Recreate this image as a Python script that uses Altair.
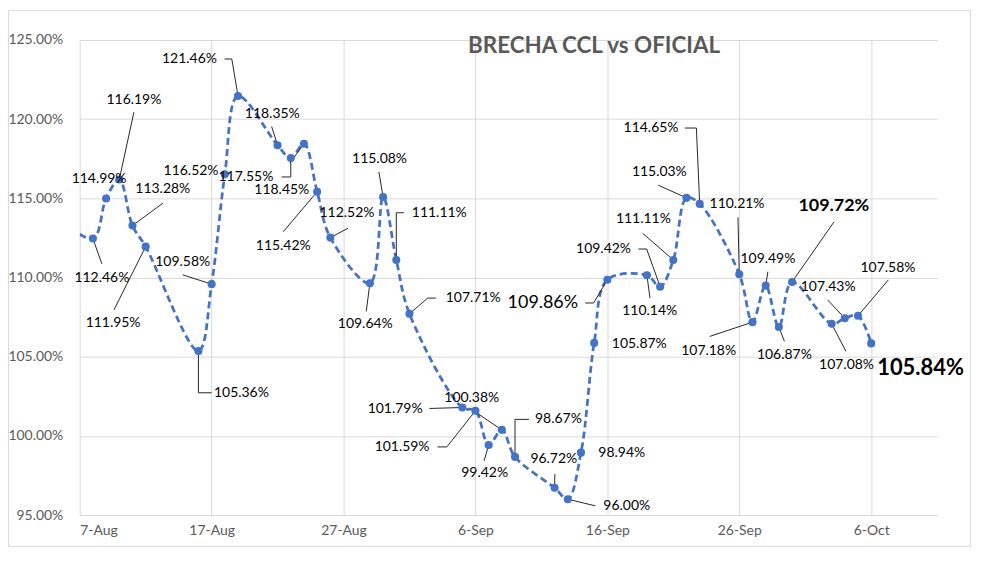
import altair as alt
import pandas as pd

START = "2022-08-07"
AXIS_END = "2022-10-11"

dates = [
    "2022-08-05", "2022-08-08", "2022-08-09", "2022-08-10", "2022-08-11", "2022-08-12",
    "2022-08-16", "2022-08-17", "2022-08-18", "2022-08-19",
    "2022-08-22", "2022-08-23", "2022-08-24", "2022-08-25", "2022-08-26",
    "2022-08-29", "2022-08-30", "2022-08-31", "2022-09-01",
    "2022-09-05", "2022-09-06", "2022-09-07", "2022-09-08", "2022-09-09",
    "2022-09-12", "2022-09-13", "2022-09-14", "2022-09-15", "2022-09-16",
    "2022-09-19", "2022-09-20", "2022-09-21", "2022-09-22", "2022-09-23",
    "2022-09-26", "2022-09-27", "2022-09-28", "2022-09-29", "2022-09-30",
    "2022-10-03", "2022-10-04", "2022-10-05", "2022-10-06",
]
values = [
    114.00, 112.46, 114.99, 116.19, 113.28, 111.95,
    105.36, 109.58, 116.52, 121.46,
    118.35, 117.55, 118.45, 115.42, 112.52,
    109.64, 115.08, 111.11, 107.71,
    101.79, 101.59, 99.42, 100.38, 98.67,
    96.72, 96.00, 98.94, 105.87, 109.86,
    110.14, 109.42, 111.11, 115.03, 114.65,
    110.21, 107.18, 109.49, 106.87, 109.72,
    107.08, 107.43, 107.58, 105.84,
]

# x-axis tick labels (every 10 days from START)
tick_days = [0, 10, 20, 30, 40, 50, 60]
tick_labels = ["7-Aug", "17-Aug", "27-Aug", "6-Sep", "16-Sep", "26-Sep", "6-Oct"]
y_ticks = [95, 100, 105, 110, 115, 120, 125]

# data-label anchors (days since START, percent), one per point from index 1
label_day = [
    1.68, 1.47, 4.11, 6.30, 2.53, 12.26, 7.81, 8.44, 8.32, 14.60,
    12.60, 15.32, 15.43, 20.26, 21.65, 22.73, 27.26, 29.83, 23.91, 24.44,
    30.70, 29.72, 36.29, 35.94, 41.47, 41.09, 42.42, 35.11, 43.21, 39.71,
    42.73, 43.94, 43.31, 49.83, 47.68, 52.17, 53.42, 57.17, 58.13, 56.74,
    61.27, 63.74,
]
label_val = [
    109.96, 116.21, 121.24, 115.56, 107.13, 102.68, 111.00, 116.73, 123.80, 120.34,
    116.35, 115.52, 112.01, 114.05, 107.06, 117.51, 114.09, 108.70, 101.67, 99.30,
    97.64, 102.41, 101.04, 98.52, 95.58, 98.90, 105.82, 108.39, 107.86, 111.80,
    113.67, 116.67, 119.44, 114.63, 105.38, 111.17, 105.13, 114.51, 104.46, 109.43,
    110.63, 104.30,
]
# emphasis of labels: n = normal, big = larger, bold = bold, bolder = bold & larger
label_style = ["n"] * 42
label_style[28 - 1] = "big"
label_style[38 - 1] = "bold"
label_style[42 - 1] = "bolder"

# leader lines: point index -> label-side vertices (days, percent); they end at the point
leaders = {
    1: [(1.68, 110.86)],
    3: [(4.11, 120.44)],
    4: [(6.32, 114.70)],
    5: [(2.60, 107.96)],
    6: [(10.0, 102.72), (9.0, 102.72)],
    7: [(7.81, 110.17)],
    9: [(10.98, 123.80), (11.53, 123.80)],
    10: [(14.55, 119.54)],
    11: [(15.31, 116.35), (16.0, 116.35)],
    12: [(15.94, 117.22)],
    13: [(15.43, 112.89)],
    14: [(20.34, 113.11)],
    15: [(21.72, 107.86)],
    16: [(22.68, 116.67)],
    17: [(24.57, 114.09), (24.0, 114.09)],
    18: [(27.0, 108.70), (26.38, 108.70)],
    19: [(26.51, 101.73)],
    20: [(27.13, 99.30), (27.83, 99.30)],
    21: [(30.66, 98.42)],
    22: [(29.90, 101.56)],
    23: [(34.05, 101.04), (33.0, 101.04)],
    24: [(36.02, 97.58)],
    25: [(39.08, 95.58)],
    28: [(38.32, 108.39), (38.96, 108.39)],
    29: [(43.23, 108.70)],
    30: [(42.35, 111.80), (42.98, 111.80)],
    31: [(42.68, 112.79)],
    32: [(43.86, 115.83)],
    33: [(45.87, 119.44), (46.75, 119.44)],
    34: [(49.90, 113.80)],
    35: [(47.76, 106.28)],
    36: [(52.17, 110.37)],
    37: [(53.42, 105.97)],
    38: [(57.19, 113.52)],
    39: [(58.08, 105.34)],
    40: [(56.69, 108.59)],
    41: [(61.30, 109.85)],
}

# ---------------------------------------------------------------- tables
start = pd.Timestamp(START)
series = pd.DataFrame({"date": pd.to_datetime(dates), "y": values})
series["x"] = (series["date"] - start).dt.days
x_end = (pd.Timestamp(AXIS_END) - start).days

pts = series[series["x"] >= 0]

labels = pd.DataFrame({
    "x": label_day,
    "y": label_val,
    "text": [f"{v:.2f}%" for v in values[1:]],
    "style": label_style,
})

rows = []
for idx, verts in leaders.items():
    k = 0
    for (vx, vy) in verts:
        rows.append({"id": idx, "o": k, "x": vx, "y": vy})
        k += 1
    rows.append({"id": idx, "o": k, "x": float(series["x"][idx]), "y": values[idx]})
lead = pd.DataFrame(rows)

# ---------------------------------------------------------------- encodings
FONT = "Lato"
GRID = "#d9d9d9"
BLUE = "#4472C4"

label_js = "[" + ",".join(f"'{t}'" for t in tick_labels) + "]"
xaxis = alt.Axis(
    values=tick_days, labelExpr=f"{label_js}[round(datum.value/10)]",
    grid=True, gridColor=GRID, domain=True, domainColor=GRID, ticks=False,
    labelPadding=9, labelFont=FONT, labelFontSize=14, labelColor="#595959", title=None,
)
yaxis = alt.Axis(
    values=y_ticks, labelExpr="format(datum.value, '.2f') + '%'",
    grid=True, gridColor=GRID, domain=False, ticks=False,
    labelPadding=17, labelFont=FONT, labelFontSize=14, labelColor="#595959", title=None,
)
xs = alt.Scale(domain=[0, x_end], nice=False, zero=False)
ys = alt.Scale(domain=[95, 125], nice=False, zero=False)
X = alt.X("x:Q", scale=xs, axis=xaxis)
Y = alt.Y("y:Q", scale=ys, axis=yaxis)

frame = alt.Chart(pd.DataFrame({"k": [0]})).mark_rect(
    fill="white", fillOpacity=0, stroke=GRID, strokeWidth=1
).encode(x=alt.value(-71.5), x2=alt.value(894.5), y=alt.value(-29.5), y2=alt.value(508.5))

line = alt.Chart(series).mark_line(
    interpolate="catmull-rom", strokeDash=[7, 4], strokeWidth=2.75, color=BLUE, clip=True
).encode(x=X, y=Y, order="x:Q")

dots = alt.Chart(pts).mark_circle(size=66, color=BLUE, opacity=1).encode(x=X, y=Y)

leader_lines = alt.Chart(lead).mark_line(color="#262626", strokeWidth=1).encode(
    x=X, y=Y, detail="id:N", order="o:Q"
)


def text_layer(style, size, weight):
    return alt.Chart(labels).transform_filter(
        alt.datum.style == style
    ).mark_text(
        font=FONT, fontSize=size, fontWeight=weight, color="#000000",
        align="center", baseline="middle"
    ).encode(x=X, y=Y, text="text:N")


chart = alt.layer(
    frame,
    line,
    leader_lines,
    dots,
    text_layer("n", 14, "normal"),
    text_layer("big", 18, "normal"),
    text_layer("bold", 18, "bold"),
    text_layer("bolder", 22, "bold"),
).properties(
    width=861,
    height=477,
    title=alt.TitleParams(
        "BRECHA CCL vs OFICIAL", anchor="start", frame="group", dx=390, dy=48, offset=0,
        font=FONT, fontSize=22.5, fontWeight="bold", color="#595959",
    ),
    autosize=alt.AutoSizeParams(type="none"),
    padding={"left": 72, "top": 31, "right": 36, "bottom": 34},
    background="white",
).configure_view(strokeWidth=0)

chart.save("out.html", embed_options={"renderer": "svg", "actions": False})
